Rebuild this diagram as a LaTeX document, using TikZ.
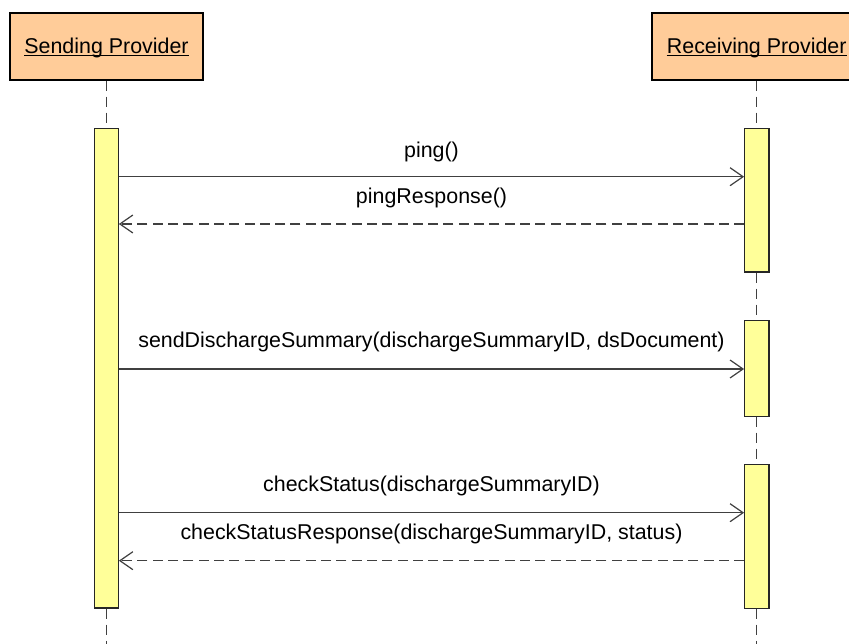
\documentclass[tikz,border=0pt]{standalone}
\usepackage{fontspec}
\setmainfont{Liberation Sans}
\usetikzlibrary{arrows.meta}
\definecolor{hdrfill}{HTML}{FFCC99}
\definecolor{actfill}{HTML}{FFFF99}
\definecolor{linegray}{HTML}{404040}
\begin{document}
\begin{tikzpicture}[x=1pt,y=-1pt,
  every node/.style={font=\fontsize{21.4}{25}\selectfont},
  hdr/.style={draw=black, line width=1.1pt, fill=hdrfill, minimum height=67pt, inner sep=0pt},
  act/.style={draw=black!85, line width=1.1pt, fill=actfill, inner sep=0pt},
  lifeline/.style={draw=linegray, line width=1.2pt, dash pattern=on 10pt off 6pt},
  msg/.style={draw=linegray, line width=1.2pt, -{Straight Barb[length=13pt,width=18pt]}},
  reply/.style={msg, dash pattern=on 10pt off 5.3pt},
  lbl/.style={anchor=base, inner sep=0pt, text=black},
  hdrtxt/.style={anchor=base, inner sep=0pt, text=black}
]
\useasboundingbox (0,0) rectangle (849,644);
\clip (0,0) rectangle (849,644);
\fill[white] (0,0) rectangle (849,644);

% header boxes
\node[hdr, minimum width=193pt] (sp) at (106.5,46.5) {};
\node[hdr, minimum width=209pt] (rp) at (756.5,46.5) {};
\node[hdrtxt] (spt) at (106.5,53.3) {Sending Provider};
\node[hdrtxt] (rpt) at (756.7,53.3) {Receiving Provider};
\draw[line width=1pt] ([yshift=-2.6pt]spt.base west) -- ([yshift=-2.6pt]spt.base east);
\draw[line width=1pt] ([yshift=-2.6pt]rpt.base west) -- ([yshift=-2.6pt]rpt.base east);

% lifelines
\coordinate (endL) at (106.5,648);
\coordinate (endR) at (756.8,648);
\draw[lifeline] (sp.south) -- (endL);
\draw[lifeline] (sp.south -| endR) -- (endR);

% activations
\node[act, minimum width=23.6pt, minimum height=479.3pt] (aL) at (106.5,368.35) {};
\node[act, minimum width=24.3pt, minimum height=143.3pt] (aR1) at (756.8,200.35) {};
\node[act, minimum width=24.3pt, minimum height=96pt] (aR2) at (756.8,368.7) {};
\node[act, minimum width=24.3pt, minimum height=144pt] (aR3) at (756.8,536.7) {};

% message levels
\coordinate (m1) at (0,176.7);
\coordinate (m2) at (0,224);
\coordinate (m3) at (0,369);
\coordinate (m4) at (0,512.7);
\coordinate (m5) at (0,560.7);

\draw[msg] (aL.east |- m1) -- (aR1.west |- m1);
\draw[reply] (aR1.west |- m2) -- (aL.east |- m2);
\draw[msg] (aL.east |- m3) -- (aR2.west |- m3);
\draw[msg] (aL.east |- m4) -- (aR3.west |- m4);
\draw[reply] (aR3.west |- m5) -- (aL.east |- m5);

% labels
\node[lbl] (l1) at (431.5,157.3) {ping()};
\node[lbl] (l2) at (431.5,204) {pingResponse()};
\node[lbl] (l3) at (431.5,347.3) {sendDischargeSummary(dischargeSummaryID, dsDocument)};
\node[lbl] (l4) at (431.5,491.7) {checkStatus(dischargeSummaryID)};
\node[lbl] (l5) at (431.5,539.3) {checkStatusResponse(dischargeSummaryID, status)};
\end{tikzpicture}
\end{document}
